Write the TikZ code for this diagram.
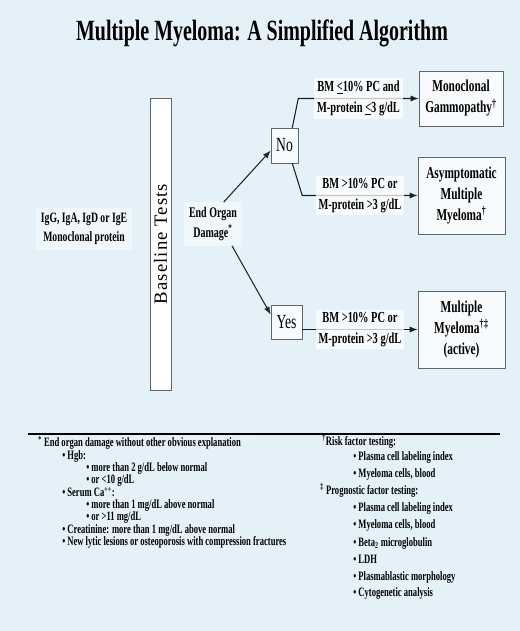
\documentclass[tikz,border=0pt]{standalone}
\usepackage{fontspec}
\setmainfont[FakeStretch=0.68]{Liberation Serif}
\newfontfamily\basefont[LetterSpace=6]{Liberation Serif}
\newfontfamily\notefont[FakeStretch=0.67]{Liberation Serif}
\usetikzlibrary{arrows.meta, positioning, calc}
\definecolor{slidebg}{RGB}{228,241,249}
\definecolor{boxline}{RGB}{95,102,108}
\newcommand{\dg}{\textsuperscript{†}}
\newcommand{\ddg}{\textsuperscript{‡}}
\newcommand{\lessq}{\underline{<}}

\begin{document}
\begin{tikzpicture}[
  x=0.75pt, y=-0.75pt,
  >={Latex[length=6pt,width=4.5pt]},
  outcome/.style = {draw=boxline, fill=white!75!slidebg, align=center,
                    font=\bfseries\fontsize{12.5}{15.75}\selectfont,
                    minimum width=65.25pt, minimum height=57.75pt, inner sep=2pt},
  answer/.style  = {draw=boxline, fill=white!75!slidebg,
                    font=\fontsize{15}{15}\selectfont, inner sep=1pt},
  start/.style   = {align=center, fill=white, fill opacity=0.45, text opacity=1,
                    inner sep=4pt},
  crit/.style    = {align=center, font=\bfseries\fontsize{11.5}{15.75}\selectfont,
                    text=black, fill=white, fill opacity=0.75, text opacity=1, inner sep=2pt},
  flow/.style    = {->, line width=0.8pt, black!85},
  branch/.style  = {->, line width=0.8pt, draw=black!70!boxline},
  note/.style    = {anchor=west, font=\notefont\bfseries\fontsize{9.6}{10}\selectfont,
                    inner sep=0pt},
]
\useasboundingbox (0,0) rectangle (520,631);
\fill[slidebg] (0,0) rectangle (520,631);

% ---------- title ----------
\node[font=\bfseries\fontsize{22}{24}\selectfont] (title) at (262,33)
     {Multiple Myeloma: A Simplified Algorithm};

% ---------- left part ----------
\node[start, font=\bfseries\fontsize{10.7}{14.3}\selectfont] (ig) at (84,229)
     {IgG, IgA, IgD or IgE\\Monoclonal protein};
\node[draw=boxline, fill=white, rotate=90, minimum width=219pt, minimum height=15.75pt,
      inner sep=0pt, font=\basefont\fontsize{14}{14}\selectfont] (base) at (160.5,244)
     {Baseline Tests};
\node[start, font=\bfseries\fontsize{11}{14.3}\selectfont] (eod) at (213,224)
     {End Organ\\Damage\textsuperscript{*}};

% ---------- yes / no ----------
\node[answer, minimum width=20.25pt, minimum height=26.25pt] (no)  at (284.5,145.5) {No};
\node[answer, minimum width=23.25pt, minimum height=25.5pt]  (yes) at (286.5,322)   {Yes};

\draw[flow] (eod.64)  -- (no.200);
\draw[flow] (eod.311) -- (yes.155);

% ---------- outcomes ----------
\node[outcome, minimum height=41.25pt, minimum width=63pt] (mgus) at (461,98.5)
     {Monoclonal\\Gammopathy\dg};
\node[outcome] (smm) at (461.5,195.5) {Asymptomatic\\Multiple\\Myeloma\dg};
\node[outcome] (mm)  at (461.5,329.5) {Multiple\\Myeloma\dg\ddg\\(active)};

\draw[branch] ([xshift=-4.5pt]no.north east) -- (no.north east |- mgus.west)
  -- (mgus.west) node[crit, midway] {BM \lessq10\% PC and\\M-protein \lessq3 g/dL};
\draw[branch] ([xshift=-4.5pt]no.south east) -- ([xshift=3pt]no.south east |- smm.west)
  -- (smm.west) node[crit, midway] {BM >10\% PC or\\M-protein >3 g/dL};
\draw[branch] (yes.east |- mm.west) -- (mm.west)
  node[crit, midway] {BM >10\% PC or\\M-protein >3 g/dL};

% ---------- footnotes ----------
\draw[line width=2.2pt] (28,434) -- (500,434);

\foreach \y/\x/\txt [count=\i] in {
  443/38/{\textsuperscript{*} End organ damage without other obvious explanation},
  456/62/{• Hgb:},
  468/86/{• more than 2 g/dL below normal},
  480/86/{• or <10 g/dL},
  492/62/{• Serum Ca\textsuperscript{++}:},
  505/86/{• more than 1 mg/dL above normal},
  517/86/{• or >11 mg/dL},
  530/62/{• Creatinine: more than 1 mg/dL above normal},
  542/62/{• New lytic lesions or osteoporosis with compression fractures}}{
  \node[note] (left-\i) at (\x,\y) {\txt};
}

\foreach \y/\x/\txt [count=\i] in {
  441/322/{\dg Risk factor testing:},
  457/353/{• Plasma cell labeling index},
  474/353/{• Myeloma cells, blood},
  490/320/{\ddg\ Prognostic factor testing:},
  508/353/{• Plasma cell labeling index},
  525/353/{• Myeloma cells, blood},
  543/353/{• Beta\textsubscript{2} microglobulin},
  559/353/{• LDH},
  577/353/{• Plasmablastic morphology},
  593/353/{• Cytogenetic analysis}}{
  \node[note] (right-\i) at (\x,\y) {\txt};
}

\end{tikzpicture}
\end{document}
